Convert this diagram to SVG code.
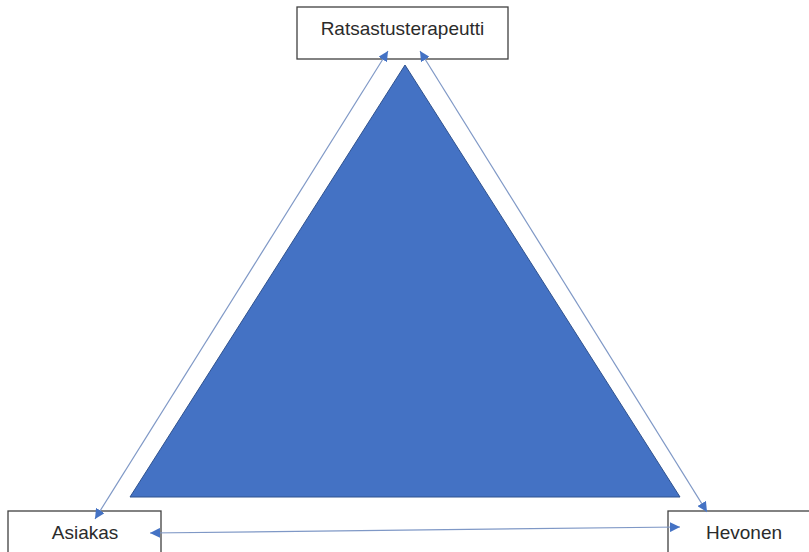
<svg xmlns="http://www.w3.org/2000/svg" width="809" height="552" viewBox="0 0 809 552">
<defs>
<style>
.box{fill:#ffffff;stroke:#404040;stroke-width:1.3}
.lbl{font-family:"Liberation Sans",Arial,sans-serif;font-size:19px;fill:#2b2b2b;text-anchor:middle}
.con{stroke:#7f98c6;stroke-width:1.2;fill:none}
</style>
<marker id="ah" viewBox="0 0 10 10" refX="10" refY="5" markerWidth="10" markerHeight="10" markerUnits="userSpaceOnUse" orient="auto-start-reverse">
<path d="M0,0 L10,5 L0,10 Z" fill="#4472c4"/>
</marker>
</defs>
<rect width="809" height="552" fill="#ffffff"/>
<g id="triangle">
<polygon points="405,65 680,497 130,497" fill="#4472c4" stroke="#2f528f" stroke-width="1"/>
</g>
<g id="node-ratsastusterapeutti">
<rect class="box" x="297" y="7" width="211" height="52"/>
<text class="lbl" x="402.5" y="35">Ratsastusterapeutti</text>
</g>
<g id="node-asiakas">
<rect class="box" x="8" y="511" width="153" height="44"/>
<text class="lbl" x="85" y="539">Asiakas</text>
</g>
<g id="node-hevonen">
<rect class="box" x="668" y="511" width="150" height="44"/>
<text class="lbl" x="744" y="539">Hevonen</text>
</g>
<g id="connectors">
<line class="con" x1="388" y1="51" x2="95" y2="519" marker-start="url(#ah)" marker-end="url(#ah)"/>
<line class="con" x1="420" y1="51" x2="707" y2="512" marker-start="url(#ah)" marker-end="url(#ah)"/>
<line class="con" x1="150" y1="533" x2="680" y2="527" marker-start="url(#ah)" marker-end="url(#ah)"/>
</g>
</svg>
